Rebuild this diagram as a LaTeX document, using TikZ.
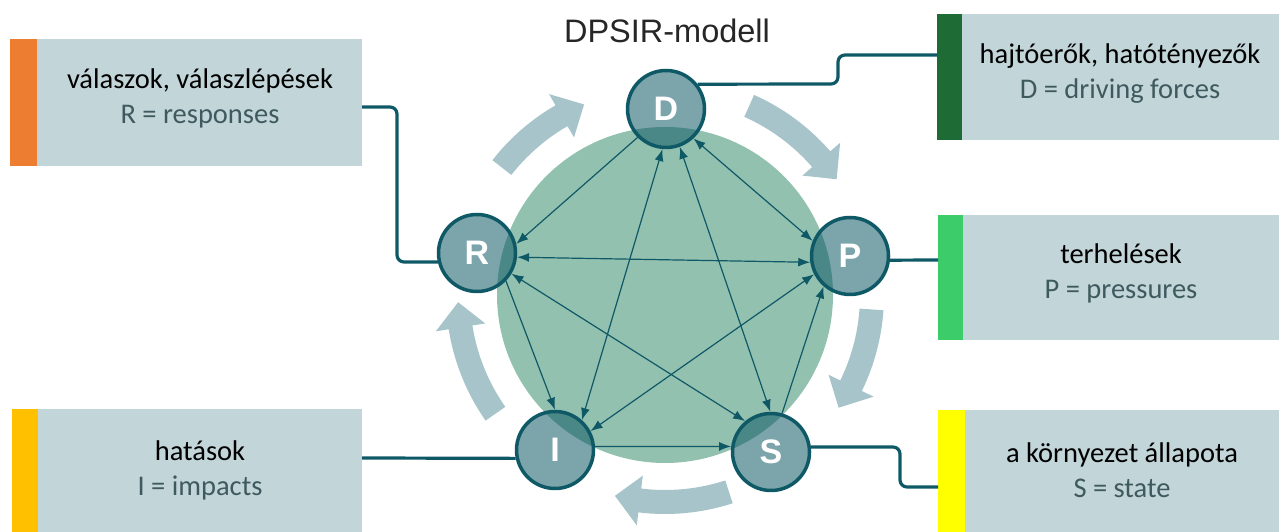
\documentclass[tikz,border=0pt]{standalone}
\usepackage{fontspec}
\setmainfont{Carlito}
\newfontfamily\arialf{Liberation Sans}
\usetikzlibrary{arrows.meta}
\definecolor{boxfill}{HTML}{C2D5D9}
\definecolor{subtext}{HTML}{3E5A5E}
\definecolor{tealc}{HTML}{0F5966}
\definecolor{band}{HTML}{A6C4CA}
\definecolor{biggreen}{HTML}{93C1B0}
\definecolor{barD}{HTML}{1E6B35}
\definecolor{barR}{HTML}{ED7D31}
\definecolor{barP}{HTML}{3DCC6A}
\definecolor{barI}{HTML}{FFC000}
\definecolor{barS}{HTML}{FFFF00}
\tikzset{
  circ/.style={circle, minimum size=77pt, inner sep=0pt, draw=tealc, line width=3.5pt,
    fill=tealc, fill opacity=0.55, text opacity=1, text=white,
    font=\arialf\bfseries\fontsize{34}{34}\selectfont},
  bigc/.style={circle, minimum size=336pt, inner sep=0pt, fill=biggreen},
  boxr/.style={rectangle, fill=boxfill, inner sep=0pt},
  barr/.style={rectangle, inner sep=0pt},
  lbl/.style={align=center, inner sep=0pt, font=\fontsize{28.5}{35}\selectfont},
  conn/.style={draw=tealc, line width=3.2pt, rounded corners=7pt},
  inarr/.style={draw=tealc, line width=1.2pt},
  tip/.style={-{Latex[length=12pt,width=9pt]}},
  tips/.style={{Latex[length=12pt,width=9pt]}-{Latex[length=12pt,width=9pt]}},
  cycband/.style={fill=band}
}
\newcommand\cyc[2]{%
  \pgfmathsetmacro\hb{#2+7}%
  \fill[cycband] (#1:219) arc[start angle=#1,end angle=\hb,radius=219]
     -- (\hb:232) -- (#2:207) -- (\hb:182) -- (\hb:195)
     arc[start angle=\hb,end angle=#1,radius=195] -- cycle;}
\begin{document}
\begin{tikzpicture}[x=1pt,y=1pt]
\useasboundingbox (0,0) rectangle (1279,532);
% cycle arrows
\begin{scope}[shift={(665,237)}]
\cyc{142}{113}
\cyc{66}{34}
\cyc{-4}{-33}
\cyc{-72}{-104}
\cyc{-145}{-178}
\end{scope}
% big circle
\node[bigc] (big) at (665,237) {};
% title
\node[font=\arialf\fontsize{32.5}{32.5}\selectfont, text=black!85] (title) at (667,501) {DPSIR-modell};
% small circles
\node[circ] (D) at (666,423) {D};
\node[circ] (P) at (850,276) {P};
\node[circ] (R) at (477,279) {R};
\node[circ] (I) at (555,82) {I};
\node[circ] (S) at (771,80) {S};
% inner arrows
\draw[inarr,tip]  (D.225) -- (R.13);
\draw[inarr,tips] (D.265) -- (I.48);
\draw[inarr,tips] (D.290) -- (S.91);
\draw[inarr,tips] (D.313) -- (P.158);
\draw[inarr,tips] (R.-6) -- (P.189);
\draw[inarr,tip]  (R.-44) -- (I.90);
\draw[inarr,tips] (R.-31) -- (S.130);
\draw[inarr,tips] (I.28) -- (P.207);
\draw[inarr,tip]  (I.5) -- (S.172);
\draw[inarr,tip]  (S.74) -- (P.229);
% boxes
\node[barr, fill=barD, minimum width=25pt, minimum height=126pt] (bD) at (949.5,455) {};
\node[boxr, minimum width=317pt, minimum height=126pt] (xD) at (1120.5,455) {};
\node[barr, fill=barR, minimum width=27pt, minimum height=127pt] (bR) at (23.5,429.5) {};
\node[boxr, minimum width=325pt, minimum height=127pt] (xR) at (199.5,429.5) {};
\node[barr, fill=barP, minimum width=25pt, minimum height=125pt] (bP) at (950.5,254.5) {};
\node[boxr, minimum width=316pt, minimum height=125pt] (xP) at (1121,254.5) {};
\node[barr, fill=barI, minimum width=26pt, minimum height=123pt] (bI) at (25,61.5) {};
\node[boxr, minimum width=324pt, minimum height=123pt] (xI) at (200,61.5) {};
\node[barr, fill=barS, minimum width=27pt, minimum height=122pt] (bS) at (951.5,61) {};
\node[boxr, minimum width=314pt, minimum height=122pt] (xS) at (1122,61) {};
% labels
\node[lbl] (tD) at (1120,458) {hajtóerők, hatótényezők\\\textcolor{subtext}{D = driving forces}};
\node[lbl] (tR) at (200,434) {válaszok, válaszlépések\\\textcolor{subtext}{R = responses}};
\node[lbl] (tP) at (1121,259) {terhelések\\\textcolor{subtext}{P = pressures}};
\node[lbl] (tI) at (200,62) {hatások\\\textcolor{subtext}{I = impacts}};
\node[lbl] (tS) at (1122,62) {a környezet állapota\\\textcolor{subtext}{S = state}};
% connectors
\coordinate (d1) at (838,448);
\coordinate (d2) at (838,477);
\coordinate (d3) at (937,477);
\draw[conn] (D.38) -- (d1) -- (d2) -- (d3);
\coordinate (r0) at (362,425);
\coordinate (r1) at (397,425);
\coordinate (r2) at (397,270);
\draw[conn] (r0) -- (r1) -- (r2) -- (R.193);
\coordinate (p1) at (938,272);
\draw[conn] (P.-6) -- (p1);
\coordinate (i1) at (362,74);
\draw[conn] (I.192) -- (i1);
\coordinate (s1) at (900,85);
\coordinate (s2) at (900,45);
\coordinate (s3) at (938,45);
\draw[conn] (S.7) -- (s1) -- (s2) -- (s3);
\end{tikzpicture}
\end{document}
